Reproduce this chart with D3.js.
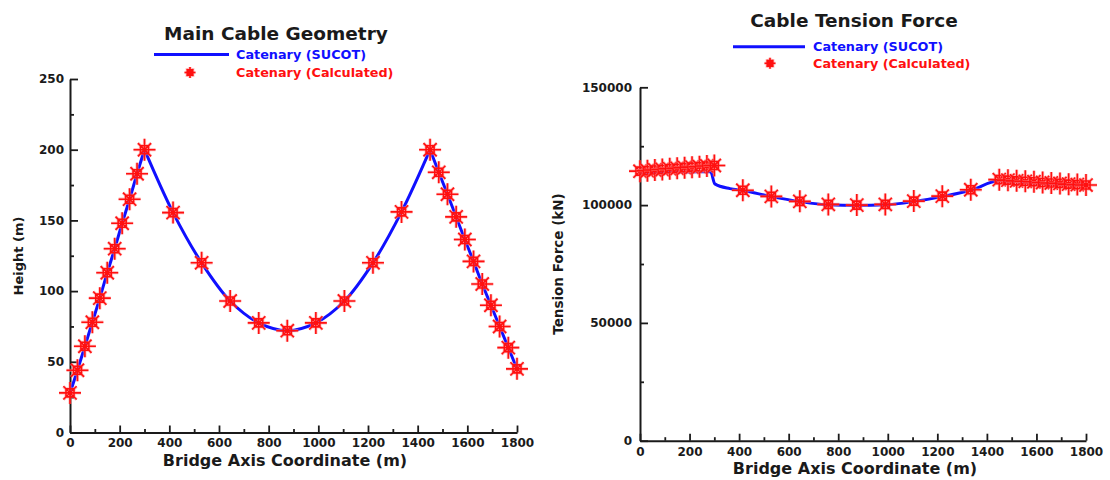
<!DOCTYPE html>
<html><head><meta charset="utf-8">
<script src="https://cdn.jsdelivr.net/npm/d3@7"></script>
<style>
body{margin:0;background:#fff}
svg{display:block}
text{font-family:"DejaVu Sans",Verdana,sans-serif;font-weight:bold}
</style>
</head><body>
<svg id="c" width="1110" height="480"></svg>
<script>
// ---------- data ----------
const xTicks = [0,200,400,600,800,1000,1200,1400,1600,1800];
const heightTicks = [0,50,100,150,200,250];
const tensionTicks = [0,50000,100000,150000];

// Main cable geometry (calculated points), by span
const sideLeftX = [0,30,60,90,120,150,180,210,240,270,300];
const sideLeftHeight = [28,44,61,78,95,113,130,148,165,183,200];
const mainSpanX = [300,415,530,645,760,875,990,1105,1220,1335,1450];
const mainSpanHeight = [200,155.5,120,93,77.5,72,77.5,93,120,156,200];
const sideRightX = [1450,1485,1520,1555,1590,1625,1660,1695,1730,1765,1800];
const sideRightHeight = [200,184,168.5,152.5,136.5,121,105,90,75,60,45];

// Cable tension (calculated points)
const tensionLeft = [114400,114600,114900,115100,115400,115600,115900,116100,116300,116600,116800];
const tensionMainX = [415,530,645,760,875,990,1105,1220,1335];
const tensionMain = [106300,103700,101600,100300,100000,100300,101700,103800,106500];
const tensionRight = [110800,110600,110300,110100,109900,109600,109400,109200,108900,108700,108500];

// Cable tension (SUCOT line)
const sucotTensionX = [0,100,200,285,302,363,415,530,645,760,875,990,1105,1220,1335,1450,1560,1680,1800];
const sucotTension = [113900,114000,114100,114200,109000,107000,106200,103600,101500,100100,99800,100100,101500,103600,106300,110300,109600,109000,108600];

// ---------- drawing ----------
const svg = d3.select("#c");
const BLUE = "#1010ff", RED = "#ff1010", INK = "#1a1a1a";

function starPath(r, s){
  const p = d3.path();
  [0,45,90,135].forEach(a=>{
    const rr = (a % 90 === 0) ? r : r*0.85;
    const c = Math.cos(a*Math.PI/180)*rr, sn = Math.sin(a*Math.PI/180)*rr;
    p.moveTo(-c,-sn); p.lineTo(c,sn);
  });
  p.rect(-s,-s,2*s,2*s);
  return p.toString();
}
function drawStars(g, pts, r, s){
  const d = starPath(r, s);
  const sel = g.selectAll(null).data(pts).enter().append("g")
    .attr("transform", p=>`translate(${p[0]},${p[1]})`);
  sel.append("path").attr("d", d).attr("fill","none")
    .attr("stroke","#ff8a8a").attr("stroke-width",3.2).attr("opacity",0.55);
  sel.append("path").attr("d", d).attr("fill","none")
    .attr("stroke",RED).attr("stroke-width",1.6);
}
function styleAxis(g){
  g.selectAll(".domain").attr("stroke",INK).attr("stroke-width",2);
  g.selectAll(".tick line").attr("stroke",INK).attr("stroke-width",1.8);
  g.selectAll(".tick text").attr("fill",INK).style("font-size","12px").style("font-family","'DejaVu Sans',Verdana,sans-serif").style("font-weight","bold");
}
function drawAxes(x, y, yTicks, yMinor, opts){
  const [x0,x1] = x.range(), [y0,y1] = y.range();
  svg.append("g").attr("transform",`translate(0,${y0})`)
    .call(d3.axisBottom(x).tickValues(d3.range(100,1800,200)).tickSize(-3.5).tickSizeOuter(0).tickFormat(""))
    .call(g=>{g.select(".domain").remove(); styleAxis(g);});
  svg.append("g").attr("transform",`translate(${x0},0)`)
    .call(d3.axisLeft(y).tickValues(yMinor).tickSize(-4).tickSizeOuter(0).tickFormat(""))
    .call(g=>{g.select(".domain").remove(); styleAxis(g);});
  svg.append("g").attr("transform",`translate(0,${y0})`)
    .call(d3.axisBottom(x).tickValues(xTicks).tickSize(-7).tickSizeOuter(0).tickPadding(opts.xPad).tickFormat(d3.format("d")))
    .call(styleAxis);
  svg.append("g").attr("transform",`translate(${x0},0)`)
    .call(d3.axisLeft(y).tickValues(yTicks).tickSize(-8).tickSizeOuter(0).tickPadding(opts.yPad).tickFormat(d3.format("d")))
    .call(styleAxis);
}
function legend(lx0, lx1, ly, tx, ly2, sx){
  svg.append("line").attr("x1",lx0).attr("x2",lx1).attr("y1",ly).attr("y2",ly)
    .attr("stroke",BLUE).attr("stroke-width",3);
  svg.append("text").attr("x",tx).attr("y",ly).attr("dy","0.36em")
    .attr("fill",BLUE).style("font-size","12.8px").text("Catenary (SUCOT)");
  drawStars(svg.append("g"), [[sx,ly2]], 5.5, 2.8);
  svg.append("text").attr("x",tx).attr("y",ly2).attr("dy","0.36em")
    .attr("fill",RED).style("font-size","12.8px").text("Catenary (Calculated)");
}

// ===== Left chart: geometry =====
const xL = d3.scaleLinear().domain([0,1800]).range([70,517]);
const yL = d3.scaleLinear().domain([0,250]).range([432.5,79]);
drawAxes(xL, yL, heightTicks, d3.range(25,250,50), {xPad:6, yPad:6});

const spans = [
  d3.zip(sideLeftX, sideLeftHeight),
  d3.zip(mainSpanX, mainSpanHeight),
  d3.zip(sideRightX, sideRightHeight)
];
const geoLine = d3.line().x(d=>xL(d[0])).y(d=>yL(d[1])).curve(d3.curveCatmullRom);
svg.append("g").selectAll("path").data(spans).enter().append("path")
  .attr("d", geoLine).attr("fill","none").attr("stroke",BLUE).attr("stroke-width",3);
const geoPts = [...spans[0], ...spans[1].slice(1), ...spans[2].slice(1)].map(d=>[xL(d[0]), yL(d[1])]);
drawStars(svg.append("g"), geoPts, 11, 4);

svg.append("text").attr("x",276).attr("y",40).attr("text-anchor","middle")
  .attr("fill",INK).style("font-size","18.5px").text("Main Cable Geometry");
legend(154, 229, 54.5, 236, 72.5, 190);
svg.append("text").attr("x",285).attr("y",466).attr("text-anchor","middle")
  .attr("fill",INK).style("font-size","16px").text("Bridge Axis Coordinate (m)");
svg.append("text").attr("transform","translate(23,256) rotate(-90)").attr("text-anchor","middle")
  .attr("fill",INK).style("font-size","13px").text("Height (m)");

// ===== Right chart: tension =====
const xR = d3.scaleLinear().domain([0,1800]).range([640,1086]);
const yR = d3.scaleLinear().domain([0,150000]).range([440.7,87.3]);
drawAxes(xR, yR, tensionTicks, [25000,75000,125000], {xPad:7, yPad:8});

const tLine = d3.line().x(d=>xR(d[0])).y(d=>yR(d[1])).curve(d3.curveMonotoneX);
svg.append("path").datum(d3.zip(sucotTensionX, sucotTension))
  .attr("d", tLine).attr("fill","none").attr("stroke",BLUE).attr("stroke-width",3);
const tPts = [
  ...d3.zip(sideLeftX, tensionLeft),
  ...d3.zip(tensionMainX, tensionMain),
  ...d3.zip(sideRightX, tensionRight)
].map(d=>[xR(d[0]), yR(d[1])]);
drawStars(svg.append("g"), tPts, 11, 4);

svg.append("text").attr("x",854).attr("y",26.5).attr("text-anchor","middle")
  .attr("fill",INK).style("font-size","18.5px").text("Cable Tension Force");
legend(733, 805, 46.7, 813, 63.3, 770);
svg.append("text").attr("x",855).attr("y",474).attr("text-anchor","middle")
  .attr("fill",INK).style("font-size","16px").text("Bridge Axis Coordinate (m)");
svg.append("text").attr("transform","translate(563,264) rotate(-90)").attr("text-anchor","middle")
  .attr("fill",INK).style("font-size","13.5px").text("Tension Force (kN)");
</script>
</body></html>
